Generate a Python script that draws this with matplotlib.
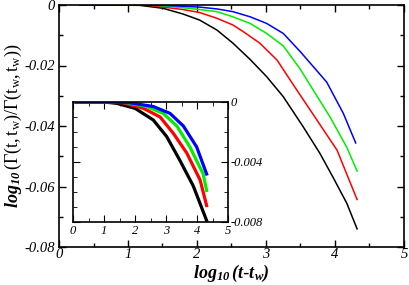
import matplotlib
matplotlib.use("Agg")
import matplotlib.pyplot as plt
from matplotlib.ticker import MultipleLocator, FuncFormatter

plt.rcParams["mathtext.fontset"] = "custom"
plt.rcParams["mathtext.rm"] = "Liberation Serif"
plt.rcParams["mathtext.it"] = "Liberation Serif:italic"
plt.rcParams["mathtext.bf"] = "Liberation Serif:bold:italic"

# main panel data
x_black = [0.3, 1.17, 1.51, 1.80, 2.04, 2.29, 2.52, 2.77, 3.01, 3.25, 3.54, 3.78, 3.97, 4.17, 4.32]
y_black = [0.0, -0.0001, -0.0011, -0.0030, -0.0050, -0.0083, -0.0126, -0.0180, -0.0237, -0.0303, -0.0403, -0.0490, -0.0569, -0.0655, -0.0740]
x_red = [0.3, 1.3, 1.80, 2.04, 2.29, 2.52, 2.67, 2.91, 3.16, 3.42, 3.74, 4.03, 4.32]
y_red = [0.0, -0.0001, -0.0015, -0.0025, -0.0044, -0.0066, -0.0088, -0.0126, -0.0182, -0.0272, -0.0381, -0.0480, -0.0643]
x_green = [0.3, 1.4, 1.80, 2.04, 2.29, 2.52, 2.77, 3.01, 3.25, 3.49, 3.64, 3.93, 4.17, 4.32]
y_green = [0.0, -0.0001, -0.0009, -0.0015, -0.0022, -0.0039, -0.0061, -0.0094, -0.0135, -0.0210, -0.0265, -0.0371, -0.0470, -0.0549]
x_blue = [0.3, 1.5, 2.04, 2.29, 2.52, 2.77, 3.01, 3.25, 3.50, 3.88, 4.12, 4.30]
y_blue = [0.0, -0.0001, -0.0007, -0.0013, -0.0022, -0.0039, -0.0061, -0.0094, -0.0155, -0.0255, -0.0358, -0.0456]

# inset data
ix_black = [0.1, 1.0, 1.41, 2.0, 2.59, 3.02, 3.45, 3.88, 4.31]
iy_black = [0.0, 0.0, -0.00009, -0.00042, -0.0012, -0.0023, -0.0039, -0.0056, -0.0079]
ix_red = [0.1, 1.0, 1.6, 2.27, 2.81, 3.24, 3.67, 4.10, 4.31]
iy_red = [0.0, 0.0, -0.00005, -0.00042, -0.0010, -0.0021, -0.0034, -0.0052, -0.0069]
ix_green = [0.1, 1.0, 1.7, 2.38, 2.91, 3.35, 3.77, 4.20, 4.31]
iy_green = [0.0, 0.0, -0.00004, -0.0003, -0.00076, -0.0016, -0.0030, -0.0048, -0.0059]
ix_blue = [0.1, 1.0, 1.8, 2.59, 3.13, 3.56, 3.99, 4.31]
iy_blue = [0.0, 0.0, -0.00004, -0.0003, -0.00076, -0.0016, -0.0030, -0.0048]

colors = ["black", "red", "#00ee00", "blue"]

fig = plt.figure(figsize=(4.09, 2.85), dpi=100)
W, H = 409, 285
ax = fig.add_axes([59 / W, 1 - 247 / H, (404 - 59) / W, (247 - 5) / H])

for xs, ys, c in zip([x_black, x_red, x_green, x_blue], [y_black, y_red, y_green, y_blue], colors):
    ax.plot(xs, ys, color=c, lw=1.1)

ax.set_xlim(0, 5)
ax.set_ylim(-0.08, 0)
ax.xaxis.set_major_locator(MultipleLocator(1))
ax.xaxis.set_minor_locator(MultipleLocator(0.5))
ax.yaxis.set_major_locator(MultipleLocator(0.02))
ax.yaxis.set_minor_locator(MultipleLocator(0.01))

fmt = FuncFormatter(lambda v, p: "%g" % round(v, 6))
ax.xaxis.set_major_formatter(fmt)
ax.yaxis.set_major_formatter(fmt)
ax.tick_params(which="both", direction="in", top=True, right=True, width=1)
ax.tick_params(which="major", length=5)
ax.tick_params(which="minor", length=3)
for lab in ax.get_xticklabels() + ax.get_yticklabels():
    lab.set_fontfamily("Liberation Serif")
    lab.set_fontstyle("italic")
    lab.set_fontsize(10.5)
ax.tick_params(axis="x", pad=1)
ax.tick_params(axis="y", pad=3)
for s in ax.spines.values():
    s.set_linewidth(1.2)

ax.set_xlabel(r"$\mathbf{log}_{\mathbf{10}}\,\mathbf{(t}$-$\mathbf{t}_{\mathbf{w}}\mathbf{)}$",
              fontsize=13, labelpad=1)
ax.set_ylabel(r"$\mathbf{log}_{\mathbf{10}}\,(\Gamma(\mathrm{t,t_w})/\Gamma(\mathrm{t_w,t_w}))$",
              fontsize=13, labelpad=0)

# inset
ia = fig.add_axes([73 / W, 1 - 222 / H, (228 - 73) / W, (222 - 102) / H])
for xs, ys, c in zip([ix_black, ix_red, ix_green, ix_blue], [iy_black, iy_red, iy_green, iy_blue], colors):
    ia.plot(xs, ys, color=c, lw=2.3)
ia.set_xlim(0, 5)
ia.set_ylim(-0.008, 0)
ia.xaxis.set_major_locator(MultipleLocator(1))
ia.xaxis.set_minor_locator(MultipleLocator(0.5))
ia.yaxis.set_major_locator(MultipleLocator(0.004))
ia.yaxis.set_minor_locator(MultipleLocator(0.001))
ia.xaxis.set_major_formatter(fmt)
ia.yaxis.set_major_formatter(fmt)
ia.yaxis.tick_right()
ia.tick_params(which="both", direction="in", top=True, left=True, right=True, labelleft=False, labelright=True)
ia.tick_params(which="major", length=5)
ia.tick_params(which="minor", length=3)
ia.tick_params(axis="both", pad=2)
for lab in ia.get_xticklabels() + ia.get_yticklabels():
    lab.set_fontfamily("Liberation Serif")
    lab.set_fontstyle("italic")
    lab.set_fontsize(9)
for s in ia.spines.values():
    s.set_linewidth(1.2)

fig.savefig("out.png", dpi=100)
